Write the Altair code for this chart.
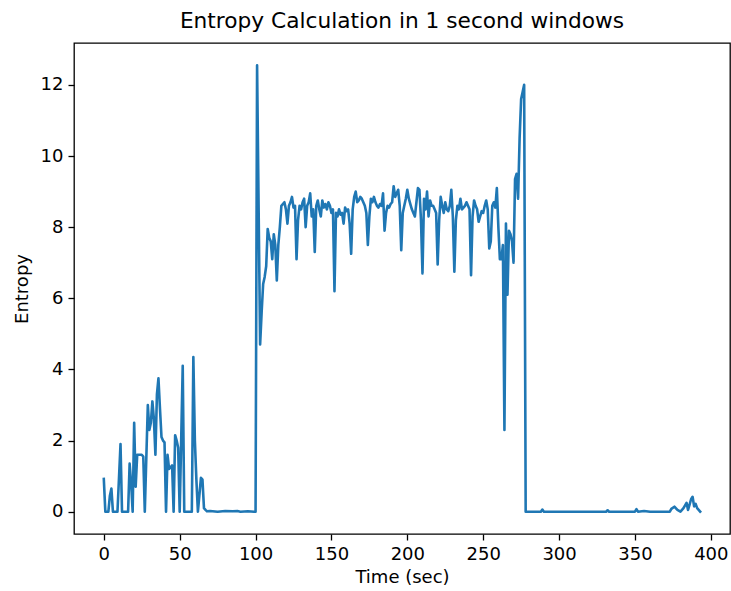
import altair as alt
import pandas as pd

# time in seconds (1-second windows) and entropy value
times = [0, 1, 3, 4, 5, 6, 9, 11, 12, 16, 17, 18, 19, 20, 21, 22, 25, 26, 27, 29,
         30, 31, 32, 33, 34, 35, 36, 37, 38, 39, 40, 41, 42, 43, 44, 45, 46, 47, 48, 49,
         50, 52, 53, 58, 59, 60, 61, 62, 64, 65, 66, 67, 68, 70, 75, 80, 85, 88, 90, 95,
         99, 100, 101, 103, 104, 105, 106, 107, 108, 109, 110, 111, 112, 113, 114, 115, 116, 117, 118, 119,
         120, 121, 122, 123, 124, 125, 126, 127, 128, 129, 130, 131, 132, 133, 134, 135, 136, 137, 138, 139,
         140, 141, 142, 143, 144, 145, 146, 147, 148, 149, 150, 151, 152, 153, 154, 155, 156, 157, 158, 159,
         160, 161, 162, 163, 164, 165, 166, 167, 168, 169, 170, 171, 172, 173, 174, 175, 176, 177, 178, 179,
         180, 181, 182, 183, 184, 185, 186, 187, 188, 189, 190, 191, 192, 193, 194, 195, 196, 197, 198, 199,
         200, 201, 202, 203, 204, 205, 206, 207, 208, 209, 210, 211, 212, 213, 214, 215, 216, 217, 218, 219,
         220, 221, 222, 223, 224, 225, 226, 227, 228, 229, 230, 231, 232, 233, 234, 235, 236, 237, 238, 239,
         240, 241, 242, 243, 244, 245, 246, 247, 248, 249, 250, 251, 252, 253, 254, 255, 256, 257, 258, 259,
         260, 261, 262, 263, 264, 265, 266, 267, 268, 269, 270, 271, 272, 273, 274, 275, 276, 277, 278, 288,
         289, 290, 331, 332, 333, 350, 351, 352, 356, 360, 373, 374, 376, 378, 380, 382, 384, 385, 386, 387,
         388, 389, 390, 391, 392, 393]

entropy = [0.92, 0.0, 0.0, 0.45, 0.65, 0.0, 0.0, 1.9, 0.0, 0.0, 1.35, 0.8, 0.0, 2.5, 0.7, 1.6, 1.6, 1.55, 0.0, 3.0,
           2.3, 2.5, 3.1, 2.6, 1.6, 3.3, 3.75, 2.9, 2.1, 2.0, 1.95, 0.0, 1.6, 1.2, 1.25, 1.3, 0.0, 2.15, 2.0, 1.8,
           0.0, 4.1, 0.0, 0.0, 4.35, 2.0, 0.9, 0.0, 0.95, 0.9, 0.1, 0.05, 0.01, 0.02, 0.0, 0.02, 0.01, 0.02, 0.0, 0.01,
           0.0, 0.0, 12.55, 4.7, 5.6, 6.4, 6.6, 6.9, 7.95, 7.7, 7.6, 7.1, 7.8, 7.5, 6.5, 7.5, 8.0, 8.6, 8.65, 8.7,
           8.5, 8.1, 8.6, 8.7, 8.85, 8.55, 8.6, 7.1, 8.2, 8.6, 8.5, 8.7, 8.8, 8.0, 8.6, 8.7, 8.95, 8.3, 8.5, 7.3,
           8.6, 8.75, 8.5, 8.3, 8.75, 8.55, 8.65, 8.5, 8.7, 8.6, 8.4, 8.5, 6.2, 8.4, 8.3, 8.5, 8.35, 8.4, 8.1, 8.55,
           8.45, 8.5, 8.1, 7.25, 8.5, 8.85, 9.0, 8.7, 8.75, 8.85, 8.8, 8.7, 8.6, 8.4, 7.5, 8.3, 8.8, 8.7, 8.85, 8.7,
           8.6, 8.55, 8.65, 8.6, 8.95, 7.9, 8.4, 8.6, 8.55, 8.65, 8.7, 9.15, 8.85, 8.95, 9.05, 8.6, 7.35, 8.4, 8.6, 8.8,
           9.05, 8.8, 8.65, 8.5, 8.4, 8.3, 8.7, 9.1, 9.05, 8.2, 6.7, 8.8, 8.5, 9.0, 8.3, 8.75, 8.6, 8.6, 8.5, 8.4,
           6.95, 8.2, 8.85, 8.6, 8.4, 8.7, 8.5, 8.45, 8.6, 9.05, 8.3, 6.75, 8.2, 8.6, 8.5, 8.8, 8.5, 8.55, 8.6, 8.7,
           8.6, 8.5, 6.65, 8.3, 8.75, 8.6, 8.5, 8.15, 8.3, 8.45, 8.4, 8.6, 8.75, 8.5, 7.4, 7.6, 8.6, 8.7, 8.55, 9.1,
           8.0, 7.1, 7.1, 7.5, 2.3, 8.1, 6.1, 7.9, 7.8, 7.6, 7.0, 9.35, 9.5, 8.8, 10.5, 11.6, 11.8, 12.0, 0.0, 0.0,
           0.06, 0.0, 0.0, 0.04, 0.0, 0.0, 0.07, 0.0, 0.02, 0.0, 0.0, 0.08, 0.14, 0.05, 0.0, 0.1, 0.25, 0.05, 0.2, 0.35,
           0.42, 0.15, 0.22, 0.1, 0.05, 0.0]

x_ticks = [0, 50, 100, 150, 200, 250, 300, 350, 400]
y_ticks = [0, 2, 4, 6, 8, 10, 12]

df = pd.DataFrame({"time": times, "entropy": entropy})

FONT = "DejaVu Sans"

chart = (
    alt.Chart(df)
    .mark_line(color="#1f77b4", strokeWidth=2.6, strokeJoin="round", strokeCap="square")
    .encode(
        x=alt.X(
            "time:Q",
            scale=alt.Scale(domain=[-19.65, 412.65], nice=False, zero=False),
            axis=alt.Axis(values=x_ticks, title="Time (sec)", format="d"),
        ),
        y=alt.Y(
            "entropy:Q",
            scale=alt.Scale(domain=[-0.6275, 13.1775], nice=False, zero=False),
            axis=alt.Axis(values=y_ticks, title="Entropy", format="d"),
        ),
    )
    .properties(
        width=656,
        height=491,
        title=alt.TitleParams(
            "Entropy Calculation in 1 second windows",
            font=FONT,
            fontSize=21.7,
            fontWeight="normal",
            color="#000000",
            anchor="middle",
            offset=10,
        ),
        autosize=alt.AutoSizeParams(type="none"),
        padding={"left": 74, "top": 43, "right": 1, "bottom": 57},
    )
    .configure_view(stroke="#000000", strokeWidth=1.3)
    .configure_axis(
        grid=False,
        domain=False,
        tickColor="#000000",
        tickSize=6,
        tickWidth=1.3,
        labelFont=FONT,
        labelFontSize=18,
        labelColor="#000000",
        labelPadding=5,
        titleFont=FONT,
        titleFontSize=18,
        titleFontWeight="normal",
        titleColor="#000000",
    )
    .configure_axisX(titlePadding=5)
    .configure_axisY(titlePadding=9)
)

chart.save("out.html", embed_options={"renderer": "svg", "actions": False})
